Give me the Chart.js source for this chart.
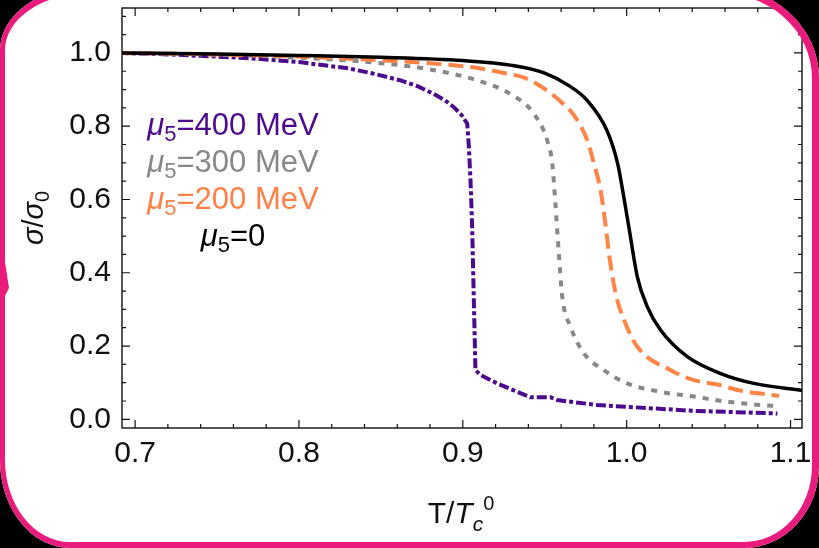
<!DOCTYPE html>
<html>
<head>
<meta charset="utf-8">
<script src="https://cdn.jsdelivr.net/npm/chart.js@4.4.1/dist/chart.umd.min.js"></script>
<style>
  html, body { margin: 0; padding: 0; background: #fff; width: 819px; height: 548px; overflow: hidden; }
  #plot { position: absolute; left: 0; top: 0; background: #fff; }
  #frame {
    position: absolute; left: 0; top: -14px; width: 819px; height: 562px; box-sizing: border-box;
    background: transparent; border: solid #E91C7E; border-width: 7px 7px 6px 5px;
    border-radius: 90px 100px 75px 70px / 64px 92px 82px 88px;
    box-shadow: 0 0 0 200px #000;
  }
  #nick {
    position: absolute; left: 0; top: 262px; width: 10px; height: 34px; background: #E91C7E;
    clip-path: polygon(0 0, 5px 0, 9px 26px, 5px 34px, 0 34px);
  }
</style>
</head>
<body>
<canvas id="plot" width="819" height="548"></canvas>
<div id="frame"></div>
<div id="nick"></div>
<script>
// T/Tc0 and sigma/sigma0, one pair of arrays per curve
let tMu0 = [0.69, 0.75, 0.80, 0.85, 0.90, 0.93, 0.95, 0.965, 0.976, 0.988, 0.9945, 0.9985, 1.0015, 1.0065, 1.0126, 1.0208, 1.037, 1.0574, 1.0777, 1.108];
let sMu0 = [1.0, 0.997, 0.993, 0.988, 0.979, 0.966, 0.945, 0.91, 0.87, 0.788, 0.698, 0.60, 0.52, 0.389, 0.307, 0.243, 0.171, 0.125, 0.098, 0.078];

let tMu200 = [0.69, 0.75, 0.80, 0.85, 0.88, 0.91, 0.925, 0.939, 0.9536, 0.961, 0.9678, 0.976, 0.980, 0.9841, 0.987, 0.9892, 0.9933, 0.9984, 1.0065, 1.0269, 1.041, 1.0574, 1.0676, 1.093];
let sMu200 = [1.0, 0.996, 0.99, 0.98, 0.972, 0.958, 0.945, 0.93, 0.89, 0.862, 0.83, 0.761, 0.698, 0.625, 0.534, 0.452, 0.343, 0.271, 0.198, 0.134, 0.107, 0.093, 0.080, 0.064];

let tMu300 = [0.69, 0.75, 0.80, 0.85, 0.88, 0.9088, 0.929, 0.9434, 0.9515, 0.9546, 0.9565, 0.9586, 0.9607, 0.9658, 0.9739, 0.9861, 1.0003, 1.0208, 1.041, 1.0615, 1.082, 1.093];
let sMu300 = [1.0, 0.995, 0.987, 0.972, 0.955, 0.925, 0.888, 0.834, 0.761, 0.698, 0.589, 0.452, 0.334, 0.252, 0.180, 0.134, 0.098, 0.075, 0.062, 0.048, 0.039, 0.036];

let tMu400 = [0.69, 0.72, 0.75, 0.775, 0.80, 0.83, 0.845, 0.862, 0.873, 0.8823, 0.889, 0.8945, 0.899, 0.9027, 0.9037, 0.9047, 0.9057, 0.9077, 0.9108, 0.921, 0.9413, 0.9536, 0.9576, 0.982, 1.0004, 1.041, 1.092];
let sMu400 = [1.0, 0.996, 0.99, 0.984, 0.975, 0.958, 0.944, 0.925, 0.908, 0.888, 0.871, 0.852, 0.832, 0.807, 0.743, 0.652, 0.525, 0.134, 0.121, 0.098, 0.060, 0.060, 0.0526, 0.039, 0.034, 0.023, 0.016];

let xTickValues = [0.7, 0.8, 0.9, 1.0, 1.1];
let yTickValues = [0.0, 0.2, 0.4, 0.6, 0.8, 1.0];

let legendValues = ['400 MeV', '300 MeV', '200 MeV', '0'];
let legendColors = ['#4C0A8F', '#888888', '#FF7F45', '#000000'];

const FAM = '"Liberation Sans", Arial, sans-serif';

function toPoints(ts, ss) {
    return ts.map((t, i) => ({ x: t, y: ss[i] }));
}

// draw a row of text pieces (for sub/superscripts)
function drawParts(ctx, parts, x, y, center) {
    let w = 0;
    parts.forEach(p => { ctx.font = p.font; p.w = ctx.measureText(p.t).width; w += p.w; });
    let cx = center ? x - w / 2 : x;
    parts.forEach(p => {
        ctx.font = p.font;
        ctx.fillText(p.t, cx, y + (p.dy || 0));
        cx += p.w;
    });
}

// box with inward ticks on all four sides
const frameTicks = {
    id: 'frameTicks',
    afterDatasetsDraw(chart) {
        const { ctx, chartArea: a, scales: { x, y } } = chart;
        ctx.save();
        ctx.strokeStyle = '#111';
        ctx.lineWidth = 1.4;
        ctx.strokeRect(a.left, a.top, a.right - a.left, a.bottom - a.top);
        ctx.lineWidth = 1.2;
        ctx.beginPath();
        for (let i = 35; i <= 55; i++) {
            const px = x.getPixelForValue(i * 0.02);
            const len = i % 5 === 0 ? 8 : 4;
            ctx.moveTo(px, a.bottom); ctx.lineTo(px, a.bottom - len);
            ctx.moveTo(px, a.top); ctx.lineTo(px, a.top + len);
        }
        for (let i = 0; i <= 22; i++) {
            const py = y.getPixelForValue(i * 0.05);
            const len = i % 4 === 0 ? 8 : 4;
            ctx.moveTo(a.left, py); ctx.lineTo(a.left + len, py);
            ctx.moveTo(a.right, py); ctx.lineTo(a.right - len, py);
        }
        ctx.stroke();
        ctx.restore();
    }
};

const labelsPlugin = {
    id: 'labelsPlugin',
    afterDraw(chart) {
        const ctx = chart.ctx;
        ctx.save();
        ctx.textBaseline = 'alphabetic';
        // legend text
        legendValues.forEach((v, i) => {
            ctx.fillStyle = legendColors[i];
            drawParts(ctx, [
                { t: 'μ', font: `italic 31px ${FAM}` },
                { t: '5', font: `22px ${FAM}`, dy: 6 },
                { t: '=' + v, font: `31px ${FAM}` }
            ], 233, 135 + 37 * i, true);
        });
        ctx.fillStyle = '#111';
        // x title
        drawParts(ctx, [
            { t: 'T', font: `30px ${FAM}` },
            { t: '/', font: `30px ${FAM}` },
            { t: 'T', font: `italic 30px ${FAM}` },
            { t: 'c', font: `italic 21px ${FAM}`, dy: 8 },
            { t: '0', font: `20px ${FAM}`, dy: -13 }
        ], 461, 523, true);
        // y title
        ctx.translate(43, 218);
        ctx.rotate(-Math.PI / 2);
        drawParts(ctx, [
            { t: 'σ', font: `italic 29px ${FAM}` },
            { t: '/', font: `29px ${FAM}` },
            { t: 'σ', font: `italic 29px ${FAM}` },
            { t: '0', font: `20px ${FAM}`, dy: 6 }
        ], 0, 0, true);
        ctx.restore();
    }
};

let ctx1 = document.getElementById('plot').getContext('2d');
let chart1 = new Chart(ctx1, {
    type: 'line',
    data: {
        datasets: [
            { data: toPoints(tMu0, sMu0), borderColor: '#000000', borderWidth: 3.5 },
            { data: toPoints(tMu200, sMu200), borderColor: '#FF8445', borderWidth: 4, borderDash: [15, 7] },
            { data: toPoints(tMu300, sMu300), borderColor: '#888888', borderWidth: 4, borderDash: [6, 7] },
            { data: toPoints(tMu400, sMu400), borderColor: '#4C0A8F', borderWidth: 4, borderDash: [10, 3, 4, 3],
              cubicInterpolationMode: 'default', tension: 0 }
        ]
    },
    options: {
        responsive: false,
        animation: false,
        datasets: { line: { pointRadius: 0, cubicInterpolationMode: 'monotone', fill: false } },
        layout: { padding: { top: 8, right: 17, left: 0, bottom: 0 } },
        plugins: { legend: { display: false }, tooltip: { enabled: false } },
        scales: {
            x: {
                type: 'linear', min: 0.692, max: 1.107,
                afterFit(s) { s.height = 120; s.paddingLeft = 0; s.paddingRight = 0; },
                afterBuildTicks(s) { s.ticks = xTickValues.map(v => ({ value: v })); },
                grid: { display: false, drawTicks: false },
                border: { display: false },
                ticks: {
                    font: { family: FAM, size: 30 }, color: '#111', padding: 8,
                    maxRotation: 0, autoSkip: false,
                    callback: v => Number(v).toFixed(1)
                }
            },
            y: {
                type: 'linear', min: -0.0237, max: 1.1226,
                afterFit(s) { s.width = 122; s.paddingTop = 0; s.paddingBottom = 0; },
                afterBuildTicks(s) { s.ticks = yTickValues.map(v => ({ value: v })); },
                grid: { display: false, drawTicks: false },
                border: { display: false },
                ticks: {
                    font: { family: FAM, size: 30 }, color: '#111', padding: 11,
                    autoSkip: false,
                    callback: v => Number(v).toFixed(1)
                }
            }
        }
    },
    plugins: [frameTicks, labelsPlugin]
});
</script>
</body>
</html>
